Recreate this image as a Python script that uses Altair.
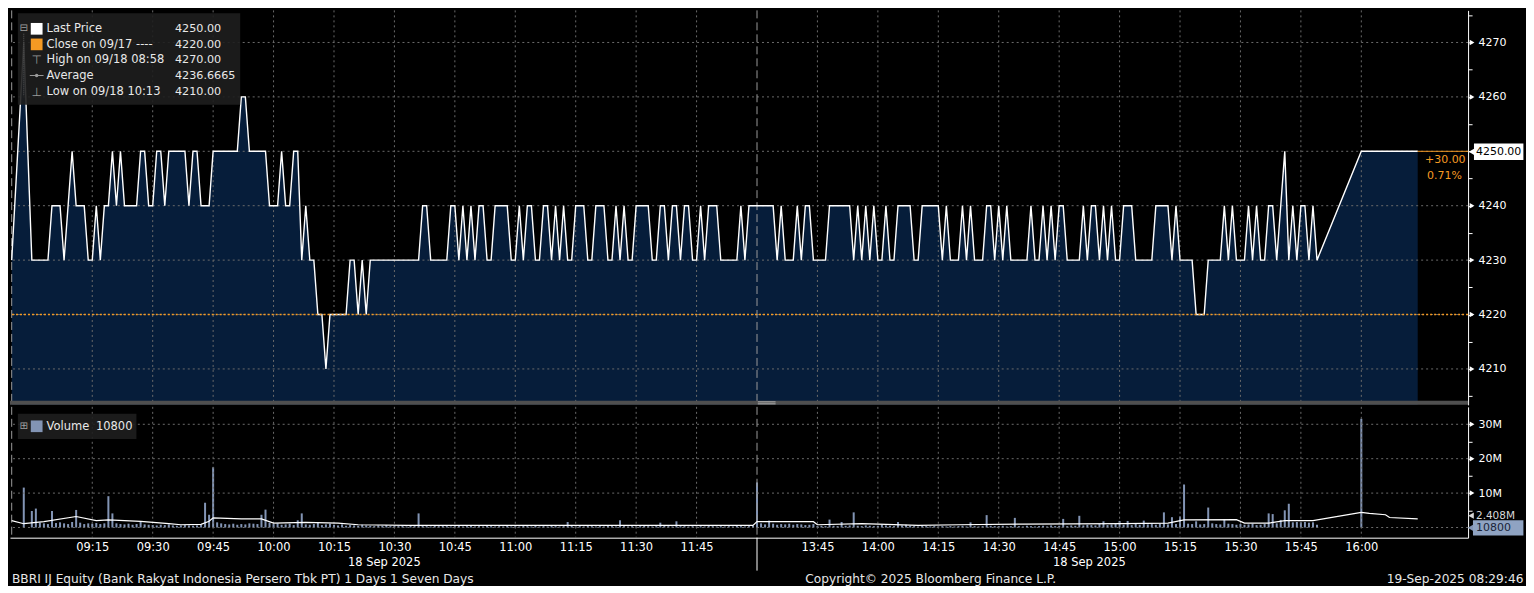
import altair as alt
import pandas as pd

# ---------------- data ----------------
PRE_TIMES = ["08:55", "08:58"]
PRE_PRICES = [4230, 4270]

AM_START = "09:00"  # one value per minute 09:00 - 11:59
AM_PRICES = [
    4230, 4230, 4230, 4230, 4230, 4240, 4240, 4240, 4230, 4240, 4250, 4240, 4240, 4240, 4230,
    4230, 4240, 4230, 4240, 4240, 4250, 4240, 4250, 4240, 4240, 4240, 4240, 4250, 4250, 4240,
    4240, 4250, 4250, 4240, 4250, 4250, 4250, 4250, 4250, 4240, 4250, 4250, 4240, 4240, 4240,
    4250, 4250, 4250, 4250, 4250, 4250, 4250, 4260, 4260, 4250, 4250, 4250, 4250, 4250, 4240,
    4240, 4240, 4250, 4240, 4240, 4250, 4250, 4230, 4240, 4230, 4230, 4220, 4220, 4210, 4220,
    4220, 4220, 4220, 4220, 4230, 4230, 4220, 4230, 4220, 4230, 4230, 4230, 4230, 4230, 4230,
    4230, 4230, 4230, 4230, 4230, 4230, 4230, 4240, 4240, 4230, 4230, 4230, 4230, 4230, 4240,
    4240, 4230, 4240, 4230, 4240, 4230, 4240, 4240, 4230, 4230, 4240, 4240, 4240, 4240, 4230,
    4230, 4240, 4230, 4240, 4240, 4230, 4230, 4240, 4240, 4230, 4240, 4230, 4240, 4230, 4230,
    4240, 4240, 4240, 4230, 4230, 4240, 4240, 4240, 4230, 4230, 4240, 4230, 4240, 4230, 4230,
    4240, 4240, 4240, 4240, 4230, 4230, 4240, 4240, 4230, 4240, 4240, 4230, 4240, 4240, 4230,
    4230, 4240, 4230, 4240, 4240, 4240, 4230, 4230, 4230, 4230, 4230, 4240, 4230, 4240, 4240,
]
PM_START = "13:30"  # one value per minute 13:30 - 15:49
PM_PRICES = [
    4240, 4240, 4240, 4240, 4240, 4230, 4240, 4230, 4230, 4230, 4240, 4230, 4240, 4240, 4230,
    4230, 4230, 4230, 4240, 4240, 4240, 4240, 4240, 4240, 4230, 4240, 4230, 4240, 4230, 4240,
    4230, 4230, 4240, 4230, 4230, 4240, 4240, 4240, 4240, 4230, 4230, 4240, 4240, 4240, 4240,
    4240, 4230, 4240, 4230, 4230, 4230, 4240, 4230, 4240, 4230, 4230, 4230, 4240, 4240, 4230,
    4240, 4230, 4240, 4230, 4230, 4230, 4230, 4230, 4240, 4230, 4230, 4240, 4230, 4240, 4230,
    4240, 4240, 4230, 4230, 4230, 4230, 4240, 4230, 4240, 4240, 4230, 4240, 4230, 4240, 4230,
    4230, 4240, 4240, 4240, 4230, 4230, 4230, 4230, 4230, 4240, 4240, 4240, 4240, 4230, 4240,
    4230, 4230, 4230, 4230, 4220, 4220, 4220, 4230, 4230, 4230, 4230, 4240, 4230, 4240, 4230,
    4230, 4230, 4240, 4230, 4240, 4230, 4230, 4240, 4240, 4230, 4240, 4250, 4230, 4240, 4230,
    4240, 4240, 4230, 4240, 4230,
]
POST_TIMES = ["16:00", "16:14"]
POST_PRICES = [4250, 4250]

# volume in millions of shares
VOL_PRE_TIMES = ["08:58"]
VOL_PRE = [11.6]
AM_VOL = [
    4.8, 5.5, 1.4, 1.2, 1.0, 4.8, 1.3, 1.5, 1.2, 1.0, 1.6, 5.1, 1.4, 1.0, 1.2,
    1.1, 1.3, 1.0, 1.2, 9.1, 4.1, 1.2, 1.0, 0.9, 1.1, 0.8, 1.0, 1.6, 0.9, 0.8,
    0.7, 0.6, 0.8, 0.7, 0.9, 0.6, 0.5, 0.6, 0.7, 0.6, 0.5, 0.6, 0.8, 7.2, 3.7,
    17.5, 1.5, 1.2, 1.0, 0.9, 1.1, 0.8, 1.0, 0.9, 1.2, 1.1, 1.0, 3.7, 5.2, 1.4,
    1.0, 1.2, 0.8, 0.9, 1.1, 0.7, 2.1, 4.1, 0.9, 0.8, 1.0, 1.6, 0.7, 0.9, 1.1,
    0.8, 0.6, 0.9, 0.5, 0.7, 0.6, 0.5, 0.8, 0.6, 0.5, 0.4, 0.6, 0.5, 0.7, 0.4,
    0.5, 0.4, 0.6, 0.3, 0.5, 0.4, 4.1, 0.5, 0.4, 0.3, 0.5, 0.4, 0.6, 0.4, 0.3,
    0.4, 0.6, 0.3, 0.4, 0.5, 0.3, 0.4, 0.3, 0.5, 0.4, 0.3, 0.4, 0.3, 0.5, 0.3,
    0.4, 0.3, 0.5, 0.4, 0.3, 0.6, 0.3, 0.4, 0.3, 0.5, 0.4, 0.3, 0.4, 1.6, 0.5,
    0.3, 0.4, 0.3, 0.5, 0.4, 0.3, 0.4, 0.3, 0.5, 0.4, 0.3, 2.1, 0.4, 0.3, 0.4,
    0.3, 0.4, 0.5, 0.4, 0.3, 0.4, 1.4, 0.5, 0.4, 0.3, 1.8, 0.4, 0.4, 0.3, 0.4,
    0.3, 0.4, 0.3, 0.5, 0.4, 0.3, 0.4, 0.3, 0.4, 0.3, 0.5, 0.4, 0.3, 0.4, 0.5,
]
PM_VOL = [
    13.1, 1.2, 0.9, 2.0, 1.1, 0.8, 1.0, 0.9, 1.1, 0.8, 1.0, 0.9, 0.7, 0.8, 1.0,
    0.4, 0.5, 0.4, 2.3, 0.5, 0.4, 1.6, 0.5, 0.6, 4.4, 0.5, 0.4, 0.6, 0.5, 0.4,
    0.5, 0.8, 0.6, 0.5, 0.4, 1.6, 0.6, 0.8, 0.5, 0.4, 0.3, 0.5, 0.4, 0.3, 0.4,
    0.3, 0.4, 0.3, 0.4, 0.3, 0.4, 0.5, 0.3, 1.5, 0.4, 0.3, 0.4, 3.6, 0.5, 0.4,
    0.4, 0.5, 0.3, 0.4, 2.8, 0.4, 0.3, 0.5, 0.4, 0.3, 0.4, 0.5, 0.3, 0.6, 0.4,
    0.5, 2.5, 0.4, 0.6, 0.5, 3.4, 0.6, 0.8, 0.7, 0.6, 1.0, 1.8, 0.7, 0.9, 1.0,
    1.9, 0.8, 1.9, 0.7, 1.0, 0.8, 2.0, 0.9, 1.0, 0.8, 1.1, 4.4, 0.9, 3.0, 1.0,
    3.2, 12.5, 1.1, 1.0, 1.8, 0.9, 1.0, 5.8, 1.2, 1.0, 0.9, 2.3, 1.1, 1.0, 0.8,
    1.0, 0.8, 0.9, 1.1, 0.7, 0.8, 1.0, 4.1, 3.9, 1.2, 2.2, 5.0, 6.9, 1.5, 1.6,
    1.5, 1.6, 1.4, 1.5, 0.8,
]
VOL_POST_TIMES = ["16:00"]
VOL_POST = [31.6]

AVG_TIMES = ["08:55", "08:58", "09:03", "09:11", "09:16", "09:19", "09:27", "09:34", "09:37",
             "09:42", "09:44", "09:45", "09:52", "09:57", "10:00", "10:08", "10:16", "10:21",
             "10:33", "11:59", "13:30", "13:44", "13:45", "13:56", "14:10", "14:20", "14:36",
             "15:01", "15:12", "15:16", "15:29", "15:31", "15:37", "15:41", "15:48", "16:00",
             "16:02", "16:06", "16:07", "16:14"]
AVG_VOL = [2.0, 1.1, 1.7, 3.2, 2.0, 2.2, 1.8, 1.1, 0.8,
           0.9, 1.8, 2.8, 2.5, 2.5, 1.3, 1.5, 1.3, 0.8,
           0.6, 0.6, 1.7, 1.7, 0.8, 1.1, 0.6, 0.8, 1.0,
           1.1, 1.3, 2.2, 2.3, 1.3, 1.3, 2.0, 2.0, 4.4,
           4.1, 3.7, 2.9, 2.5]

X_TICK_TIMES = ["09:15", "09:30", "09:45", "10:00", "10:15", "10:30", "10:45", "11:00",
                "11:15", "11:30", "11:45", "13:45", "14:00", "14:15", "14:30", "14:45",
                "15:00", "15:15", "15:30", "15:45", "16:00"]
BREAK_TIMES = ["08:55", "13:30"]
DATE_POS = [87.5, 262.5]
PRICE_GRID = [4210, 4220, 4230, 4240, 4250, 4260, 4270]
PRICE_TICKS = [4205, 4210, 4215, 4220, 4225, 4230, 4235, 4240, 4245, 4250, 4255, 4260, 4265, 4270, 4275]
PRICE_MARKED = [4210, 4220, 4230, 4240, 4260, 4270]
VOL_GRID = [0, 10, 20, 30]
VOL_TICKS = [5, 10, 15, 20, 25, 30]
VOL_MARKED = [10, 20, 30]

CLOSE_PREV = 4220
LAST_PRICE = 4250


# ---------------- helpers ----------------
def to_m(t):
    h, mm = map(int, t.split(":"))
    raw = (h - 9) * 60 + mm
    return raw if raw <= 180 else raw - 90


def minute_seq(start, n):
    h, mm = map(int, start.split(":"))
    base = h * 60 + mm
    return [f"{(base + i) // 60:02d}:{(base + i) % 60:02d}" for i in range(n)]


p_times = PRE_TIMES + minute_seq(AM_START, len(AM_PRICES)) + minute_seq(PM_START, len(PM_PRICES)) + POST_TIMES
p_vals = PRE_PRICES + AM_PRICES + PM_PRICES + POST_PRICES
price_df = pd.DataFrame({"t": p_times, "price": p_vals})
price_df["m"] = price_df["t"].map(to_m)

v_times = VOL_PRE_TIMES + minute_seq(AM_START, len(AM_VOL)) + minute_seq(PM_START, len(PM_VOL)) + VOL_POST_TIMES
v_vals = VOL_PRE + AM_VOL + PM_VOL + VOL_POST
vol_df = pd.DataFrame({"t": v_times, "v": v_vals})
vol_df["m"] = vol_df["t"].map(to_m)

avg_df = pd.DataFrame({"t": AVG_TIMES, "v": AVG_VOL})
avg_df["m"] = avg_df["t"].map(to_m)

xt_df = pd.DataFrame({"m": [to_m(t) for t in X_TICK_TIMES]})
brk_df = pd.DataFrame({"m": [to_m(t) for t in BREAK_TIMES]})
pg_df = pd.DataFrame({"p": PRICE_GRID})
pm_df = pd.DataFrame({"p": PRICE_MARKED})
vg_df = pd.DataFrame({"v": VOL_GRID})
vm_df = pd.DataFrame({"v": VOL_MARKED})
close_df = pd.DataFrame({"p": [CLOSE_PREV]})
last_df = pd.DataFrame({"m": [to_m(POST_TIMES[-1])], "p": [LAST_PRICE]})
below_df = pd.DataFrame({"m": [to_m("13:30")]})
date_df = pd.DataFrame({"m": DATE_POS, "txt": ["18 Sep 2025"] * len(DATE_POS)})
ONE = pd.DataFrame({"a": [0]})

# ---------------- layout / style ----------------
FONT = "DejaVu Sans"
W = 1460
H1 = 395
H2 = 131
EXT = 58
SX = W / 1476.0
SY = 0.973
NAVY = "#061d3a"
GRID = "#6a6a6a"
ORANGE = "#f59a23"
VOLC = "#8294b4"
TXT = "#e8e8e8"


def px(x):
    return round(x * SX, 1)


def py(y):
    return round(y * SY, 1)


def vy(y):
    return round((y - 406) * SY, 1)


XS = alt.Scale(domain=[-5.42, 356.5], nice=False, zero=False)
PS = alt.Scale(domain=[4203.4, 4275.9], nice=False, zero=False)
VS = alt.Scale(domain=[-2.96, 35.07], nice=False, zero=False)

XLAB = ("format(floor(((datum.value <= 180) ? datum.value : datum.value + 90) / 60) + 9, '02d') + ':' + "
        "format(((datum.value <= 180) ? datum.value : datum.value + 90) % 60, '02d')")

PY_AXIS = alt.Axis(orient="right", values=PRICE_TICKS, format="d",
                   labelExpr="(datum.value % 10 == 0 && datum.value != 4250) ? datum.label : ''",
                   tickSize=4, tickColor="white", domainColor="white", labelColor="white",
                   labelFont=FONT, labelFontSize=11, labelPadding=6, grid=False, title=None,
                   minExtent=EXT, maxExtent=EXT, labelOverlap=False, labelFlush=False)
VY_AXIS = alt.Axis(orient="right", values=VOL_TICKS,
                   labelExpr="(datum.value % 10 == 0) ? datum.value + 'M' : ''",
                   tickSize=4, tickColor="white", domainColor="white", labelColor="white",
                   labelFont=FONT, labelFontSize=11, labelPadding=6, grid=False, title=None,
                   minExtent=EXT, maxExtent=EXT, labelOverlap=False, labelFlush=False)
VX_AXIS = alt.Axis(orient="bottom", values=[to_m(t) for t in X_TICK_TIMES], labelExpr=XLAB, ticks=False,
                   domainColor="white", labelColor="white", labelFont=FONT, labelFontSize=11.5,
                   labelPadding=4, grid=False, title=None, labelOverlap=False, labelFlush=False)
PX_AXIS = alt.Axis(orient="bottom", labels=False, ticks=False, domain=False, grid=False, title=None,
                   minExtent=0, maxExtent=0)


def PX(f="m"):
    return alt.X(f"{f}:Q", scale=XS, axis=PX_AXIS)


def PY(f):
    return alt.Y(f"{f}:Q", scale=PS, axis=PY_AXIS)


def VX(f="m"):
    return alt.X(f"{f}:Q", scale=XS, axis=VX_AXIS)


def VY(f):
    return alt.Y(f"{f}:Q", scale=VS, axis=VY_AXIS)


def label(text, x, y, color=TXT, size=11.5, align="left"):
    return alt.Chart(ONE).mark_text(text=text, align=align, baseline="middle", color=color,
                                    fontSize=size, font=FONT).encode(x=alt.value(x), y=alt.value(y))


def box(x0, x1, y0, y1, color, opacity=1.0):
    return alt.Chart(ONE).mark_rect(color=color, opacity=opacity).encode(
        x=alt.value(x0), x2=alt.value(x1), y=alt.value(y0), y2=alt.value(y1))


def hline(x0, x1, y, color, width=1.0):
    return alt.Chart(ONE).mark_rule(color=color, strokeWidth=width).encode(
        x=alt.value(x0), x2=alt.value(x1), y=alt.value(y))


def vline(x, y0, y1, color, width=1.0, dash=None):
    kw = dict(color=color, strokeWidth=width)
    if dash:
        kw["strokeDash"] = dash
    return alt.Chart(ONE).mark_rule(**kw).encode(x=alt.value(x), y=alt.value(y0), y2=alt.value(y1))


def marker(shape, x, y, color, size):
    return alt.Chart(ONE).mark_point(shape=shape, filled=True, color=color, size=size, opacity=1).encode(
        x=alt.value(x), y=alt.value(y))


# ---------------- price panel ----------------
p_area = alt.Chart(price_df).mark_area(color=NAVY, opacity=1).encode(
    x=PX(), y=PY("price"), y2=alt.datum(4203.4))
p_xgrid = alt.Chart(xt_df).mark_rule(color=GRID, strokeDash=[2, 3], strokeWidth=1).encode(x=PX())
p_ygrid = alt.Chart(pg_df).mark_rule(color=GRID, strokeDash=[2, 3], strokeWidth=1).encode(y=PY("p"))
p_breaks = alt.Chart(brk_df).mark_rule(color="#9a9a9a", strokeDash=[8, 4], strokeWidth=1).encode(x=PX())
p_line = alt.Chart(price_df).mark_line(color="white", strokeWidth=1.4).encode(x=PX(), y=PY("price"))
p_close = alt.Chart(close_df).mark_rule(color=ORANGE, strokeDash=[2, 2], strokeWidth=1.6).encode(y=PY("p"))
p_last = alt.Chart(last_df).mark_rule(color=ORANGE, strokeWidth=1).encode(
    x=PX(), x2=alt.value(W), y=PY("p"))
p_tri = alt.Chart(pm_df).mark_point(shape="triangle-right", filled=True, color="white", size=30,
                                     opacity=1).encode(x=alt.value(W + 4), y=PY("p"))

price_layers = [
    p_area, p_xgrid, p_ygrid, p_breaks, p_line, p_close, p_last, p_tri,
    # separator bar and its handle
    box(0, W, H1 - 4, H1, "#4f4f4f"),
    hline(px(757), px(775), H1 - 3, "#b0b0b0"),
    hline(px(757), px(775), H1 - 1, "#b0b0b0"),
    # legend
    box(px(8), px(233), py(3), py(97), "#1e1e1e", 0.9),
    vline(px(14), py(24), py(88), "#5a5a5a", 1, [1, 1]),
    label("⊟", px(14), py(18), "#a0a0a0", 10, "center"),
    box(px(21), px(33), py(13), py(25), "white"),
    box(px(21), px(33), py(29), py(41), ORANGE),
    label("⊤", px(27), py(51), "#9a9a9a", 12, "center"),
    hline(px(20), px(34), py(67), "#9a9a9a"),
    marker("circle", px(27), py(67), "#9a9a9a", 12),
    label("⊥", px(27), py(84), "#9a9a9a", 12, "center"),
    label("Last Price", px(37), py(19.5)),
    label("Close on 09/17 ----", px(37), py(35.5)),
    label("High on 09/18 08:58", px(37), py(51.5)),
    label("Average", px(37), py(67.5)),
    label("Low on 09/18 10:13", px(37), py(84)),
    label("4250.00", px(167), py(19.5), TXT, 11.2),
    label("4220.00", px(167), py(35.5), TXT, 11.2),
    label("4270.00", px(167), py(51.5), TXT, 11.2),
    label("4236.6665", px(167), py(67.5), TXT, 11.2),
    label("4210.00", px(167), py(84), TXT, 11.2),
    # last price annotations
    label("+30.00", px(1453), py(154), ORANGE, 11, "center"),
    label("0.71%", px(1452), py(170), ORANGE, 11, "center"),
    marker("triangle-left", px(1480), py(145.5), "white", 60),
    box(px(1482), px(1532), py(137), py(154), "white"),
    label("4250.00", px(1484), py(145.5), "#000000", 11),
]
price_chart = alt.layer(*price_layers).properties(width=W, height=H1)

# ---------------- volume panel ----------------
v_bars = alt.Chart(vol_df).mark_rule(color=VOLC, strokeWidth=2).encode(
    x=VX(), y=VY("v"), y2=alt.datum(0))
v_xgrid = alt.Chart(xt_df).mark_rule(color=GRID, strokeDash=[2, 3], strokeWidth=1).encode(x=VX())
v_ygrid = alt.Chart(vg_df).mark_rule(color=GRID, strokeDash=[2, 3], strokeWidth=1).encode(y=VY("v"))
v_breaks = alt.Chart(brk_df).mark_rule(color="#9a9a9a", strokeDash=[8, 4], strokeWidth=1).encode(x=VX())
v_avg = alt.Chart(avg_df).mark_line(color="white", strokeWidth=1.2).encode(x=VX(), y=VY("v"))
v_tri = alt.Chart(vm_df).mark_point(shape="triangle-right", filled=True, color="white", size=30,
                                     opacity=1).encode(x=alt.value(W + 4), y=VY("v"))
v_below = alt.Chart(below_df).mark_rule(color="white", strokeWidth=1).encode(
    x=VX(), y=alt.value(H2), y2=alt.value(H2 + 33))
v_dates = alt.Chart(date_df).mark_text(align="center", baseline="middle", color="white",
                                       fontSize=11.5, font=FONT).encode(
    x=VX(), y=alt.value(H2 + 25), text="txt:N")

vol_layers = [
    v_bars, v_xgrid, v_ygrid, v_breaks, v_avg, v_tri, v_below, v_dates,
    # legend
    box(px(8), px(128), vy(413), vy(439), "#1e1e1e", 0.9),
    label("⊞", px(14), vy(426), "#a0a0a0", 10, "center"),
    box(px(21), px(33), vy(420), vy(432), VOLC),
    label("Volume", px(37), vy(426.5), TXT, 11.5),
    label("10800", px(87), vy(426.5), TXT, 11.5),
    # last value labels on the right (the average label is mostly hidden, as in the original)
    marker("triangle-left", px(1479), vy(518), "#d8d8d8", 40),
    label("2.408M", px(1484), vy(518.5), "#d8d8d8", 10.5),
    marker("triangle-left", px(1479), vy(530.5), VOLC, 60),
    box(px(1481), px(1532), vy(522.7), vy(538.5), "#8fa3c2"),
    label("10800", px(1484), vy(531), "#1a2438", 11),
    # footer
    label("BBRI IJ Equity (Bank Rakyat Indonesia Persero Tbk PT) 1 Days 1 Seven Days", px(2), H2 + 41.5,
          TXT, 12.2),
    label("Copyright\u00a9 2025 Bloomberg Finance L.P.", px(932), H2 + 41.5, TXT, 12.2, "center"),
    label("19-Sep-2025 08:29:46", px(1532), H2 + 41.5, TXT, 12.2, "right"),
]
vol_chart = alt.layer(*vol_layers).properties(width=W, height=H2)

chart = alt.vconcat(price_chart, vol_chart, spacing=0).properties(
    background="#000000", padding=0
).configure_view(strokeWidth=0).configure_concat(spacing=0).configure_axisY(orient="right")

chart.save("out.html", embed_options={"renderer": "svg", "actions": False})
